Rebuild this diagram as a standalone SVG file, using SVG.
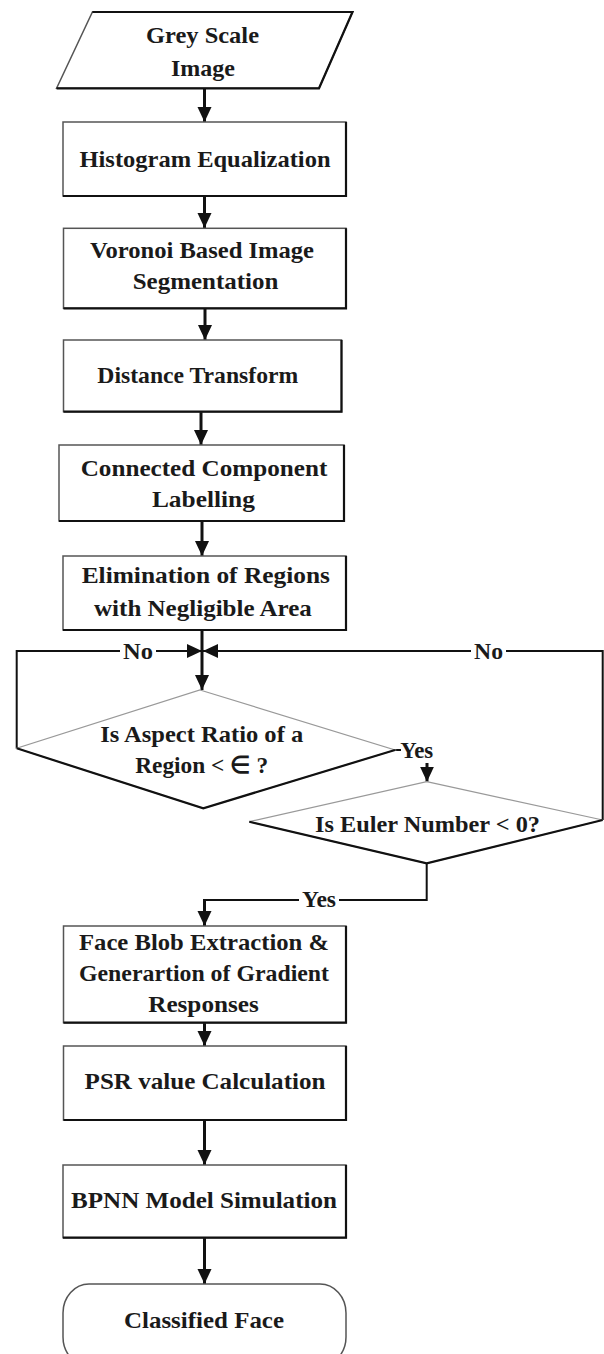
<svg xmlns="http://www.w3.org/2000/svg" width="604" height="1354" viewBox="0 0 604 1354">
<style>
.bg{fill:#ffffff}
.box{fill:#ffffff;stroke:#555555;stroke-width:1.5}
.dia{fill:#ffffff;stroke:#999999;stroke-width:1.2}
.sh{fill:none;stroke:#111111;stroke-width:2.2}
.t{font-family:"Liberation Serif","Times New Roman",serif;font-weight:bold;font-size:24px;fill:#1a1a1a;text-anchor:middle}
.lab{font-family:"Liberation Serif","Times New Roman",serif;font-weight:bold;font-size:23px;fill:#1a1a1a;text-anchor:middle}
.main{fill:none;stroke:#111111;stroke-width:3}
.thin{fill:none;stroke:#111111;stroke-width:2}
</style>
<defs>
<marker id="ah" markerUnits="userSpaceOnUse" markerWidth="16" markerHeight="16" refX="15" refY="7" orient="auto">
<path d="M0,0 L15,7 L0,14 z" fill="#111111"/>
</marker>
</defs>
<rect class="bg" x="0" y="0" width="604" height="1354"/>

<g id="connectors">
<path class="main" d="M204.5,88 L204.5,122" marker-end="url(#ah)"/>
<path class="main" d="M204.5,196 L204.5,228" marker-end="url(#ah)"/>
<path class="main" d="M205,308 L205,340" marker-end="url(#ah)"/>
<path class="main" d="M201,412 L201,445" marker-end="url(#ah)"/>
<path class="main" d="M202,521 L202,556" marker-end="url(#ah)"/>
<path class="main" d="M202,630 L202,690" marker-end="url(#ah)"/>
<path class="thin" d="M16.7,748 L16.7,651 L120,651"/>
<path class="thin" d="M156,651 L202,651" marker-end="url(#ah)"/>
<text class="lab" x="138" y="659" textLength="30" lengthAdjust="spacingAndGlyphs">No</text>
<path class="thin" d="M602.7,820 L602.7,651 L506,651"/>
<path class="thin" d="M471,651 L203,651" marker-end="url(#ah)"/>
<text class="lab" x="488.5" y="659" textLength="29" lengthAdjust="spacingAndGlyphs">No</text>
<path class="thin" d="M395,750 L401,750"/>
<text class="lab" x="416.7" y="758.3" textLength="33" lengthAdjust="spacingAndGlyphs">Yes</text>
<path class="main" d="M427,763 L427,781.7" marker-end="url(#ah)"/>
<path class="thin" d="M426.7,863.3 L426.7,900 L339,900"/>
<text class="lab" x="319" y="906.5" textLength="34" lengthAdjust="spacingAndGlyphs">Yes</text>
<path class="thin" d="M299,900 L204.5,900"/>
<path class="main" d="M204.5,899 L204.5,926" marker-end="url(#ah)"/>
<path class="main" d="M204.5,1023 L204.5,1046" marker-end="url(#ah)"/>
<path class="main" d="M204.5,1120 L204.5,1165" marker-end="url(#ah)"/>
<path class="main" d="M204.5,1238 L204.5,1284" marker-end="url(#ah)"/>
</g>

<g id="n-grey">
<polygon class="box" points="92.4,12 352.5,12 319,88.3 56.6,88.3"/>
<path class="sh" d="M92.4,12 L352.5,12 L319,88.3 L56.6,88.3"/>
<text class="t" x="202.5" y="43.3" textLength="113" lengthAdjust="spacingAndGlyphs">Grey Scale</text>
<text class="t" x="203" y="75.5" textLength="64" lengthAdjust="spacingAndGlyphs">Image</text>
</g>

<g id="n-hist">
<rect class="box" x="63" y="122" width="283" height="74"/>
<path class="sh" d="M346,122 L346,196 L63,196"/>
<text class="t" x="205" y="166.7" textLength="251" lengthAdjust="spacingAndGlyphs">Histogram Equalization</text>
</g>

<g id="n-voronoi">
<rect class="box" x="63.5" y="228.3" width="282.5" height="80"/>
<path class="sh" d="M346,228.3 L346,308.3 L63.5,308.3"/>
<text class="t" x="202" y="257.5" textLength="224" lengthAdjust="spacingAndGlyphs">Voronoi Based Image</text>
<text class="t" x="205.5" y="289" textLength="145.6" lengthAdjust="spacingAndGlyphs">Segmentation</text>
</g>

<g id="n-distance">
<rect class="box" x="63.5" y="340" width="278" height="71.7"/>
<path class="sh" d="M341.5,340 L341.5,411.7 L63.5,411.7"/>
<text class="t" x="197.8" y="382.7" textLength="201" lengthAdjust="spacingAndGlyphs">Distance Transform</text>
</g>

<g id="n-connected">
<rect class="box" x="59" y="445" width="285" height="76"/>
<path class="sh" d="M344,445 L344,521 L59,521"/>
<text class="t" x="204" y="476" textLength="246.6" lengthAdjust="spacingAndGlyphs">Connected Component</text>
<text class="t" x="203.4" y="507.3" textLength="103" lengthAdjust="spacingAndGlyphs">Labelling</text>
</g>

<g id="n-elim">
<rect class="box" x="63" y="556" width="283" height="74"/>
<path class="sh" d="M346,556 L346,630 L63,630"/>
<text class="t" x="205.8" y="583.3" textLength="248.3" lengthAdjust="spacingAndGlyphs">Elimination of Regions</text>
<text class="t" x="202.9" y="615.7" textLength="217.7" lengthAdjust="spacingAndGlyphs">with Negligible Area</text>
</g>

<g id="n-aspect">
<polygon class="dia" points="200,690 395,750 203.3,808.3 16.7,748.3"/>
<path class="sh" d="M16.7,748.3 L203.3,808.3 L395,750"/>
<text class="t" x="201.7" y="741.7" textLength="203" lengthAdjust="spacingAndGlyphs">Is Aspect Ratio of a</text>
<text class="t" x="201.7" y="772.7" textLength="133" lengthAdjust="spacingAndGlyphs">Region &lt; ∈ ?</text>
</g>

<g id="n-euler">
<polygon class="dia" points="426.7,781.7 602.7,820 426.7,863.3 249.3,821.7"/>
<path class="sh" d="M249.3,821.7 L426.7,863.3 L602.7,820"/>
<text class="t" x="427.5" y="831.7" textLength="225" lengthAdjust="spacingAndGlyphs">Is Euler Number  &lt; 0?</text>
</g>

<g id="n-face">
<rect class="box" x="63.5" y="926" width="282.5" height="96.7"/>
<path class="sh" d="M346,926 L346,1022.7 L63.5,1022.7"/>
<text class="t" x="204" y="950" textLength="250" lengthAdjust="spacingAndGlyphs">Face Blob Extraction &amp;</text>
<text class="t" x="204" y="980.5" textLength="250" lengthAdjust="spacingAndGlyphs">Generartion of Gradient</text>
<text class="t" x="203.5" y="1011.7" textLength="110.6" lengthAdjust="spacingAndGlyphs">Responses</text>
</g>

<g id="n-psr">
<rect class="box" x="63.5" y="1046" width="282.5" height="74"/>
<path class="sh" d="M346,1046 L346,1120 L63.5,1120"/>
<text class="t" x="205" y="1089" textLength="240.8" lengthAdjust="spacingAndGlyphs">PSR value Calculation</text>
</g>

<g id="n-bpnn">
<rect class="box" x="63" y="1165" width="283" height="72.7"/>
<path class="sh" d="M346,1165 L346,1237.7 L63,1237.7"/>
<text class="t" x="204" y="1208.3" textLength="265.8" lengthAdjust="spacingAndGlyphs">BPNN Model Simulation</text>
</g>

<g id="n-classified">
<rect class="box" x="63" y="1284" width="283" height="82" rx="26" ry="29"/>
<text class="t" x="204" y="1328.3" textLength="160" lengthAdjust="spacingAndGlyphs">Classified Face</text>
</g>
</svg>
